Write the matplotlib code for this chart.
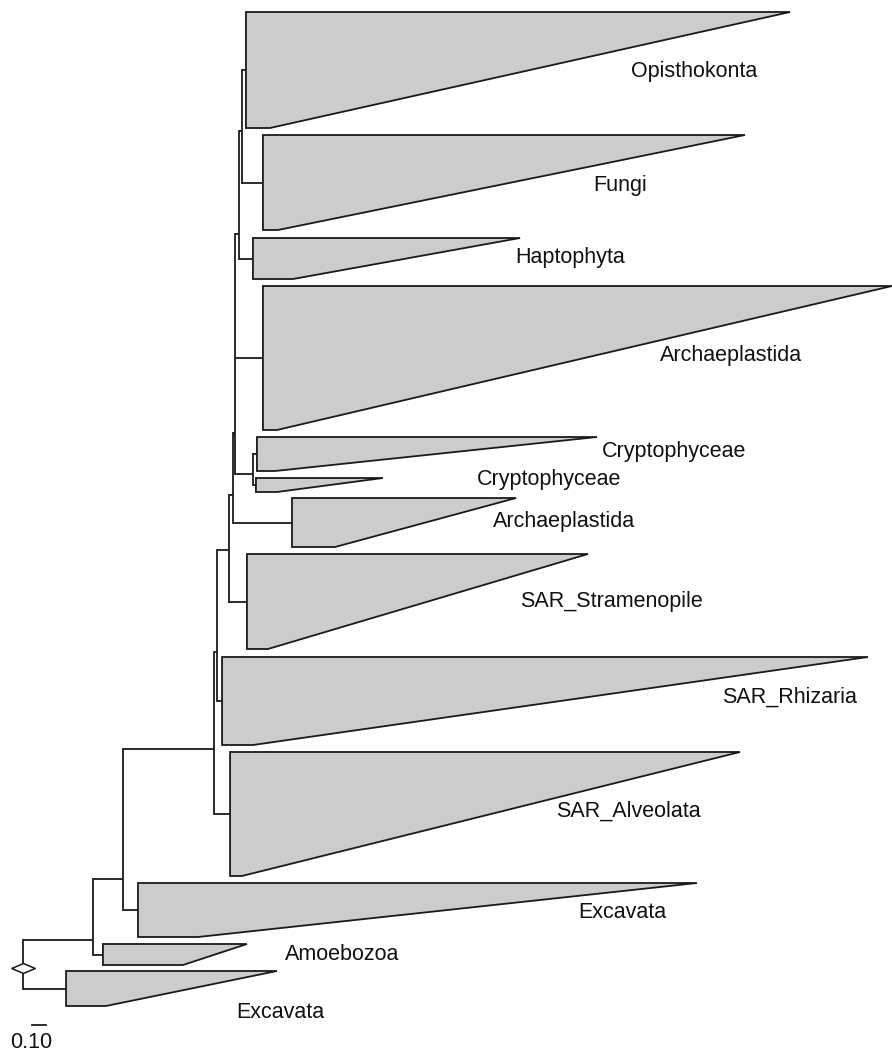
import numpy as np
import matplotlib
matplotlib.use("Agg")
import matplotlib.pyplot as plt

# collapsed clades: depth of clade node, shortest / longest tip, vertical extent
clade_names = ["Opisthokonta", "Fungi", "Haptophyta", "Archaeplastida",
               "Cryptophyceae", "Cryptophyceae", "Archaeplastida",
               "SAR_Stramenopile", "SAR_Rhizaria", "SAR_Alveolata",
               "Excavata", "Amoebozoa", "Excavata"]
clade_depth = [1.559, 1.678, 1.608, 1.678, 1.636, 1.629, 1.881, 1.566, 1.392, 1.448, 0.804, 0.559, 0.301]
clade_min = [1.727, 1.783, 1.888, 1.776, 1.762, 1.776, 2.182, 1.713, 1.608, 1.531, 1.224, 1.119, 0.580]
clade_max = [5.364, 5.049, 3.476, 6.077, 4.014, 2.517, 3.448, 3.951, 5.909, 5.014, 4.713, 1.566, 1.776]
clade_top = [12, 135, 238, 286, 437, 478, 498, 554, 657, 752, 883, 944, 971]
clade_bot = [128, 230, 279, 430, 471, 492, 547, 649, 745, 876, 937, 965, 1006]
label_x = [4.252, 3.986, 3.441, 4.455, 4.047, 3.173, 3.285, 3.476, 4.888, 3.727, 3.881, 1.832, 1.490]
label_y = [72, 185, 258, 356, 451, 480, 521, 602, 697, 811, 913, 955, 1013]

# internal nodes: depth, y, children (int = clade index, str = node)
nodes = {
    "root": (0.000, 968, ["A", 12]),
    "A":    (0.490, 940, ["B", 11]),
    "B":    (0.699, 879, ["C", 10]),
    "C":    (1.336, 749, ["D", 9]),
    "D":    (1.355, 652, ["E", 8]),
    "E":    (1.441, 550, ["F", 7]),
    "F":    (1.471, 495, ["G", 6]),
    "G":    (1.486, 433, ["H2", 3, "I"]),
    "I":    (1.610, 474, [4, 5]),
    "H2":   (1.513, 234, ["H1", 2]),
    "H1":   (1.529, 131, [0, 1]),
}

scale_len = 0.10
scale_x0 = 0.061

fig = plt.figure(figsize=(8.92, 10.52), dpi=100)
ax = fig.add_axes([0, 0, 1, 1])
ax.set_xlim(-23 / 143, 869 / 143)
ax.set_ylim(1052, 0)
ax.axis("off")

lc = "#1a1a1a"
lw = 1.3


def child_pos(c):
    if isinstance(c, str):
        return nodes[c][0], nodes[c][1]
    return clade_depth[c], (clade_top[c] + clade_bot[c]) / 2


for name, (d, y, kids) in nodes.items():
    ys = []
    for k in kids:
        kd, ky = child_pos(k)
        ax.plot([d, kd], [ky, ky], color=lc, lw=lw, solid_capstyle="butt")
        ys.append(ky)
    ax.plot([d, d], [min(ys), max(ys)], color=lc, lw=lw, solid_capstyle="projecting")

for i in range(len(clade_names)):
    poly = [(clade_depth[i], clade_top[i]), (clade_max[i], clade_top[i]),
            (clade_min[i], clade_bot[i]), (clade_depth[i], clade_bot[i])]
    ax.add_patch(plt.Polygon(poly, closed=True, facecolor="#cccccc",
                             edgecolor=lc, lw=lw, zorder=3))
    ax.text(label_x[i], label_y[i], clade_names[i], fontsize=15.5,
            family="Liberation Sans", ha="left", va="center", color="#111111")

# root marker
ax.plot([0], [nodes["root"][1]], marker=[(-1, 0), (0, 0.42), (1, 0), (0, -0.42), (-1, 0)],
        markersize=17, markerfacecolor="white", markeredgecolor=lc, mew=1.1, zorder=5)

# scale bar
ax.plot([scale_x0, scale_x0 + scale_len], [1025, 1025], color=lc, lw=lw)
ax.text(scale_x0 - 0.003, 1043, "0.10", fontsize=15.5, family="Liberation Sans",
        ha="center", va="center", color="#111111")

fig.savefig("out.png", dpi=100)
